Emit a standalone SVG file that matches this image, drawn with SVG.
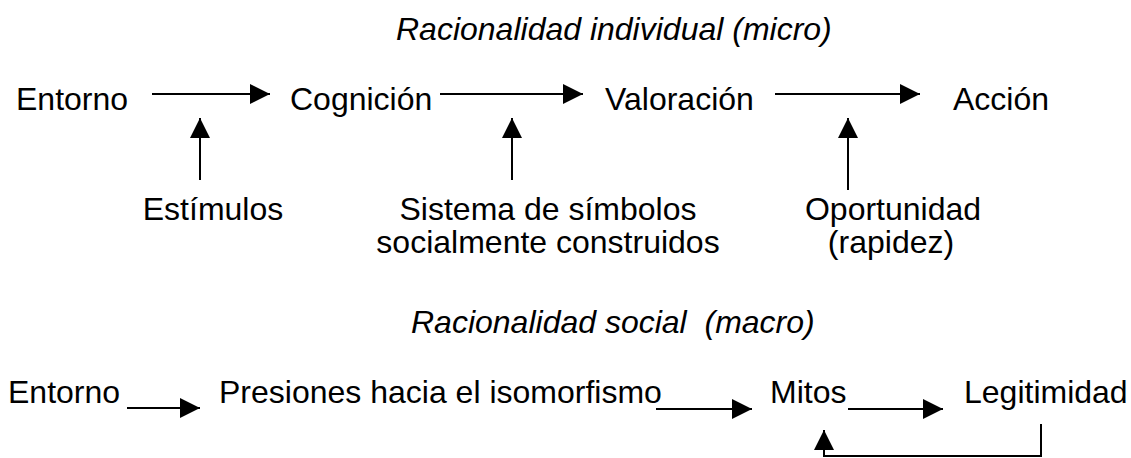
<svg xmlns="http://www.w3.org/2000/svg" width="1131" height="458" viewBox="0 0 1131 458">
<defs>
<style>
text{font-family:"Liberation Sans",Arial,sans-serif;font-size:32px;fill:#000}
.t{font-style:italic}
.c{text-anchor:middle}
.ln{stroke:#000;stroke-width:2;fill:none}
.ar{marker-end:url(#ah)}
</style>
<marker id="ah" markerUnits="userSpaceOnUse" markerWidth="20" markerHeight="20" refX="20" refY="10" orient="auto">
<path d="M0,0 L20,10 L0,20 Z" fill="#000"/>
</marker>
</defs>
<rect width="1131" height="458" fill="#fff"/>
<g id="title-micro"><text class="t" x="396" y="40">Racionalidad individual (micro)</text></g>
<g id="entorno1"><text x="16" y="110">Entorno</text></g>
<g id="cognicion"><text x="290" y="110">Cognición</text></g>
<g id="valoracion"><text x="605" y="110">Valoración</text></g>
<g id="accion"><text x="953" y="110">Acción</text></g>
<g id="estimulos"><text class="c" x="213" y="220">Estímulos</text></g>
<g id="simbolos"><text class="c" x="548" y="220">Sistema de símbolos</text><text class="c" x="548" y="253">socialmente construidos</text></g>
<g id="oportunidad"><text class="c" x="893" y="220">Oportunidad</text><text class="c" x="891" y="253">(rapidez)</text></g>
<g id="title-macro"><text class="t" x="411" y="333" xml:space="preserve">Racionalidad social  (macro)</text></g>
<g id="entorno2"><text x="8" y="403">Entorno</text></g>
<g id="presiones"><text x="219" y="403">Presiones hacia el isomorfismo</text></g>
<g id="mitos"><text x="770" y="403">Mitos</text></g>
<g id="legitimidad"><text x="964" y="403">Legitimidad</text></g>
<g id="connectors">
<line class="ln ar" x1="152" y1="94" x2="270" y2="94"/>
<line class="ln ar" x1="440" y1="94" x2="583" y2="94"/>
<line class="ln ar" x1="775" y1="94" x2="920" y2="94"/>
<line class="ln ar" x1="200" y1="180" x2="200" y2="118"/>
<line class="ln ar" x1="512" y1="180" x2="512" y2="118"/>
<line class="ln ar" x1="848" y1="190" x2="848" y2="118"/>
<line class="ln ar" x1="127" y1="408" x2="200" y2="408"/>
<line class="ln ar" x1="656" y1="409" x2="752" y2="409"/>
<line class="ln ar" x1="848" y1="409" x2="943" y2="409"/>
<path class="ln ar" d="M1041,424 V456 H824 V430"/>
</g>
</svg>
